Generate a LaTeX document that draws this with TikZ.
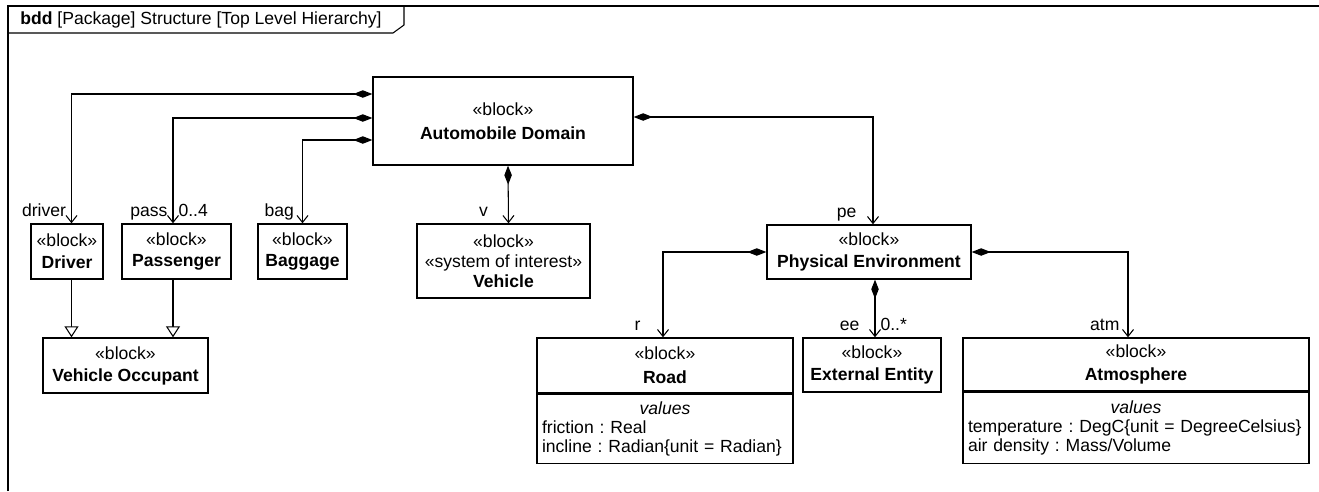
\documentclass[tikz,border=0pt]{standalone}
\usepackage{fontspec}
\setmainfont{Liberation Sans}
\usetikzlibrary{arrows.meta,positioning}

\begin{document}
\frenchspacing
\begin{tikzpicture}[x=0.02cm, y=-0.02cm, font=\fontsize{10}{12.5}\selectfont,
  block/.style={draw, line width=0.8pt, align=center, inner sep=2pt},
  valbox/.style={draw, line width=0.8pt, anchor=north, align=left, inner xsep=0.1cm, inner ysep=2pt, font=\fontsize{10}{11}\selectfont},
  role/.style={at end, anchor=base east, yshift=0.14cm, inner sep=0pt},
  mult/.style={at end, anchor=base west, yshift=0.14cm, xshift=0.1cm, inner sep=0pt},
  comp/.style={line width=0.6pt, arrows={Diamond[length=0.38cm,width=0.15cm]-Straight Barb[length=0.14cm,width=0.22cm]}},
  gen/.style={line width=0.6pt, arrows={-Triangle[open,length=0.22cm,width=0.28cm,fill=white]}}]
  \useasboundingbox (0,0) rectangle (1319,491);
  % diagram frame and its heading tab
  \draw[line width=0.8pt] (8,491) -- (8,6) -- (1319,6);
  \draw[line width=0.6pt] (8,33) -- (393,33) -- (404,25) -- (404,6);
  \node[anchor=base west, inner sep=0pt] (title) at (20,24) {\textbf{bdd} [Package] Structure [Top Level Hierarchy]};

  % blocks
  \node[block, minimum width=5.2cm, minimum height=1.76cm] (ad) at (503,121) {«block»\\[1pt]\textbf{Automobile Domain}};
  \node[block, minimum width=1.44cm, minimum height=1.1cm] (driver) at (67,251.5) {«block»\\\textbf{Driver}};
  \node[block, minimum width=2.18cm, minimum height=1.1cm] (passenger) at (176.5,251.5) {«block»\\\textbf{Passenger}};
  \node[block, minimum width=1.78cm, minimum height=1.1cm] (baggage) at (302.5,251.5) {«block»\\\textbf{Baggage}};
  \node[block, minimum width=3.46cm, minimum height=1.48cm] (vehicle) at (503.5,261) {«block»\\[-1pt]«system of interest»\\[-1pt]\textbf{Vehicle}};
  \node[block, minimum width=3.3cm, minimum height=1.1cm] (occupant) at (125.5,365.5) {«block»\\\textbf{Vehicle Occupant}};
  \node[block, minimum width=4.08cm, minimum height=1.08cm] (physenv) at (869,252) {«block»\\\textbf{Physical Environment}};
  \node[block, minimum width=5.12cm, minimum height=1.1cm] (road) at (665,365.5) {«block»\\[1pt]\textbf{Road}};
  \node[valbox, text width=4.92cm, minimum height=1.38cm] (roadval) at (road.south) {{\centering\itshape values\par}\mbox{friction : Real}\\\mbox{incline : Radian\{unit = Radian\}}};
  \node[block, minimum width=2.76cm, minimum height=1.08cm] (extent) at (872,365) {«block»\\\textbf{External Entity}};
  \node[block, minimum width=6.92cm, minimum height=1.06cm] (atmos) at (1136,364.5) {«block»\\[1pt]\textbf{Atmosphere}};
  \node[valbox, text width=6.72cm, minimum height=1.42cm] (atmosval) at (atmos.south) {{\centering\itshape values\par}\mbox{temperature : DegC\{unit = DegreeCelsius\}}\\\mbox{air density : Mass/Volume}};

  % part properties
  \draw[comp] ([yshift=0.54cm]ad.west) -| ([xshift=0.09cm]driver.north) node[role, xshift=-0.1cm] (ldriver) {driver};
  \draw[comp] ([yshift=0.06cm]ad.west) -| ([xshift=-0.07cm]passenger.north) node[role, xshift=-0.1cm] (lpass) {pass} node[mult] (mpass) {0..4};
  \draw[comp] ([yshift=-0.38cm]ad.west) -| (baggage.north) node[role, xshift=-0.16cm] (lbag) {bag};
  \draw[comp] ([xshift=0.1cm]ad.south) -- ([xshift=0.1cm]vehicle.north) node[role, xshift=-0.4cm] (lv) {v};
  \draw[comp] ([yshift=0.08cm]ad.east) -| ([xshift=0.08cm]physenv.north) node[role, xshift=-0.32cm] (lpe) {pe};
  \draw[comp] (physenv.west) -| ([xshift=-0.04cm]road.north) node[role, xshift=-0.44cm] (lr) {r};
  \draw[comp] ([xshift=0.12cm]physenv.south) -- ([xshift=0.12cm]physenv.south |- extent.north) node[role, xshift=-0.3cm] (lee) {ee} node[mult] (mee) {0..*};
  \draw[comp] (physenv.east) -| ([xshift=-0.16cm]atmos.north) node[role, xshift=-0.16cm] (latm) {atm};

  % generalizations
  \draw[gen] ([xshift=0.09cm]driver.south) -- ([xshift=0.09cm]driver.south |- occupant.north);
  \draw[gen] ([xshift=-0.07cm]passenger.south) -- ([xshift=-0.07cm]passenger.south |- occupant.north);
\end{tikzpicture}
\end{document}
